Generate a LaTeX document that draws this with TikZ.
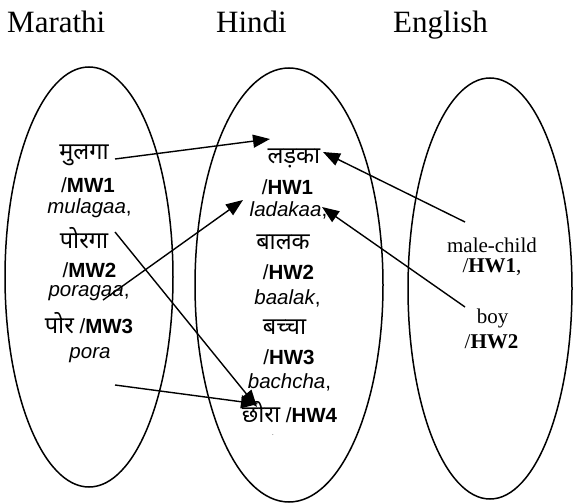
\documentclass[tikz,border=0pt]{standalone}
\usepackage{fontspec}
\setmainfont{Liberation Serif}
\newfontfamily\arialf{Liberation Sans}
\newfontfamily\devaf[Script=Devanagari]{Noto Sans}
\usetikzlibrary{arrows.meta}
\begin{document}
\begin{tikzpicture}[x=1pt,y=-1pt,
  oval/.style={draw,line width=1.5pt},
  title/.style={font=\fontsize{31}{37}\selectfont, inner sep=0pt, anchor=base west},
  sw/.style={font=\arialf\fontsize{20.5}{24}\selectfont, inner sep=0pt},
  dw/.style={font=\devaf\fontsize{23.5}{26}\selectfont, inner sep=0pt},
  ew/.style={font=\fontsize{21}{25}\selectfont, inner sep=0pt},
  link/.style={line width=1.4pt, -{Triangle[length=17pt,width=13pt]}}
]
\useasboundingbox (0,0) rectangle (573,503);
% titles
\node[title] (tm) at (7,33) {Marathi};
\node[title] (th) at (216,33) {Hindi};
\node[title] (te) at (393,33) {English};
% ellipses
\draw[oval] (89,277) ellipse [x radius=84pt, y radius=210pt];
\draw[oval] (289,285) ellipse [x radius=94pt, y radius=217pt];
\draw[oval] (490,288.5) ellipse [x radius=82pt, y radius=210.5pt];
% Marathi words
\node[dw] (m1) at (84,155) {मुलगा};
\node[sw] (m1b) at (88,185) {/\textbf{MW1}};
\node[sw] (m1t) at (89.5,208) {\textit{mulagaa},};
\node[dw] (m2) at (84,238) {पोरगा};
\node[sw] (m2b) at (89.5,270) {/\textbf{MW2}};
\node[sw] (m2t) at (89,293) {\textit{poragaa},};
\node[sw] (m3) at (89,323) {{\devaf\fontsize{23.5}{26}\selectfont पोर} /\textbf{MW3}};
\node[sw] (m3t) at (90,355) {\textit{pora}};
% Hindi words
\node[dw] (h1) at (294,158) {लड़का};
\node[sw] (h1b) at (287.5,187) {/\textbf{HW1}};
\node[sw] (h1t) at (288.5,210) {\textit{ladakaa},};
\node[dw] (h2) at (283,242) {बालक};
\node[sw] (h2b) at (288.5,272) {/\textbf{HW2}};
\node[sw] (h2t) at (287.5,298) {\textit{baalak},};
\node[dw] (h3) at (284.5,327) {बच्चा};
\node[sw] (h3b) at (289,357) {/\textbf{HW3}};
\node[sw] (h3t) at (289.5,382) {\textit{bachcha},};
\node[sw] (h4) at (289.5,412) {{\devaf\fontsize{23.5}{26}\selectfont छोरा} /\textbf{HW4}};
\node[font=\arialf\fontsize{6}{6}\selectfont, inner sep=0pt] (hdot) at (273,435) {.};
% English words
\node[ew] (e1) at (492,245) {male-child};
\node[ew] (e1b) at (492,267) {/\textbf{HW1},};
\node[ew] (e2) at (492.5,318) {boy};
\node[ew] (e2b) at (491.5,342) {/\textbf{HW2}};
% connector ends
\coordinate (a1s) at (115,159); \coordinate (a1e) at (270,139);
\coordinate (a2s) at (465,222); \coordinate (a2e) at (323,152);
\coordinate (a3s) at (103,300); \coordinate (a3e) at (243,200);
\coordinate (a4s) at (465,307); \coordinate (a4e) at (322,207);
\coordinate (a5s) at (115,232); \coordinate (a5e) at (257,407);
\coordinate (a6s) at (115,385); \coordinate (a6e) at (258,404);
\draw[link] (a1s) -- (a1e);
\draw[link] (a2s) -- (a2e);
\draw[link] (a3s) -- (a3e);
\draw[link] (a4s) -- (a4e);
\draw[link] (a5s) -- (a5e);
\draw[link] (a6s) -- (a6e);
\end{tikzpicture}
\end{document}
